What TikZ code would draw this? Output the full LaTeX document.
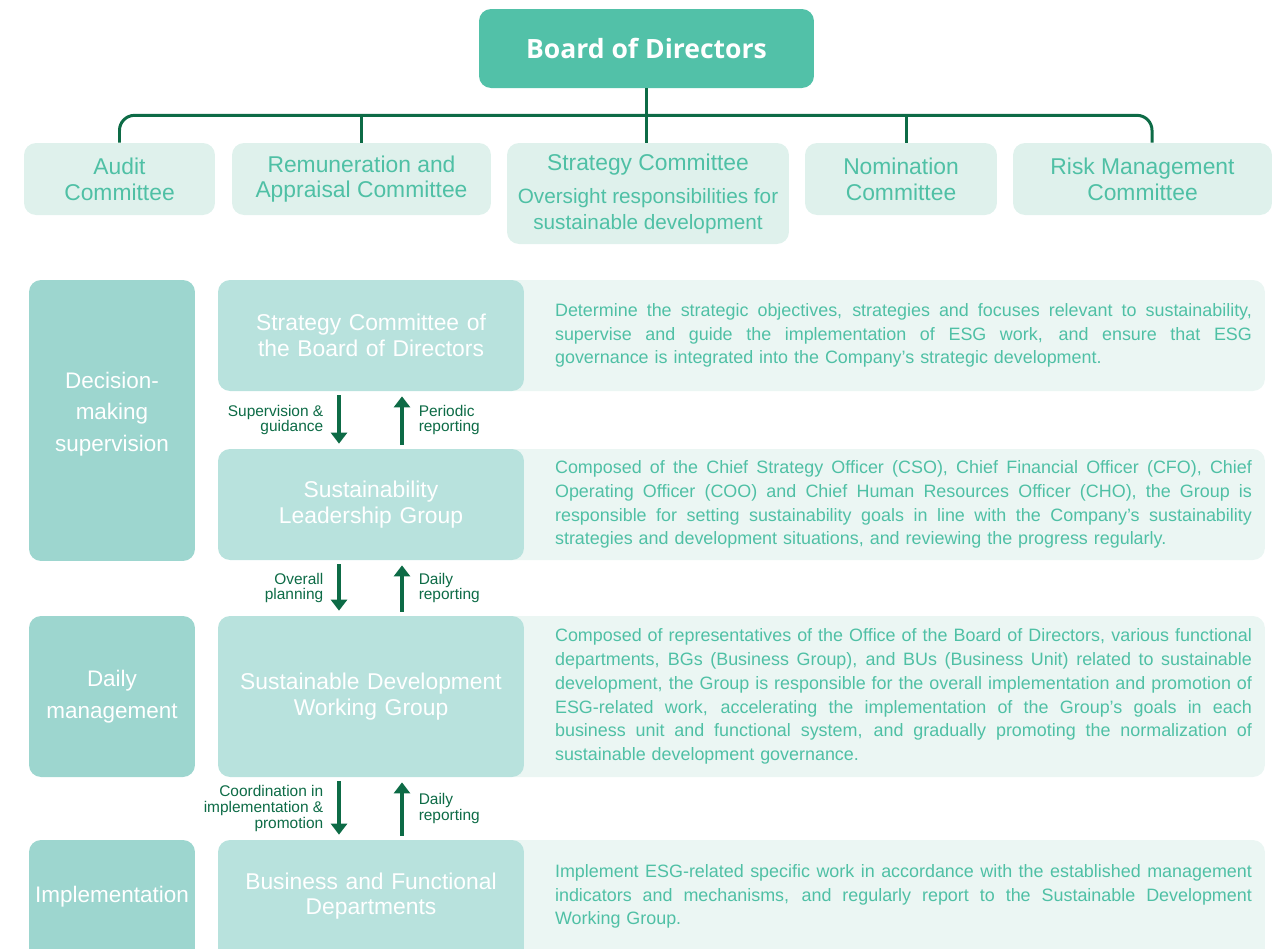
\documentclass[tikz,border=0pt]{standalone}
\usepackage{fontspec}
\setmainfont{Liberation Sans}
\newfontfamily\headfont{Open Sans}
\usetikzlibrary{positioning, arrows.meta}

\definecolor{boardgreen}{HTML}{52C1A8}
\definecolor{linegreen}{HTML}{0D6B46}
\definecolor{mint}{HTML}{4FC0A5}
\definecolor{commfill}{HTML}{DFF1EC}
\definecolor{stagefill}{HTML}{9DD6CF}
\definecolor{bodyfill}{HTML}{B8E2DD}
\definecolor{infofill}{HTML}{EBF6F3}

% justified and last lines of the description texts
\newlength{\infow}
\setlength{\infow}{13.94cm}
\newcommand{\jline}[1]{\makebox[\infow][s]{\spaceskip=\fontdimen2\font plus 1fil minus 0.1em\relax #1}}
\newcommand{\lline}[1]{\makebox[\infow][l]{#1}}
\newcommand{\subsize}{\fontsize{11.8}{13.6}\selectfont}

\tikzset{
   roundbox/.style={
     rounded corners=0.24cm, inner sep=0pt
   },
   board/.style={
      roundbox, fill=boardgreen, text=white,
      minimum width=6.7cm, minimum height=1.58cm,
      font=\headfont\bfseries\fontsize{15.1}{18}\selectfont
   },
   committee/.style={
      roundbox, fill=commfill, text=mint,
      minimum height=1.44cm,
      font=\fontsize{13}{14.6}\selectfont
   },
   stage/.style={
      roundbox, fill=stagefill, text=white,
      minimum width=3.32cm, text width=3.24cm,
      font=\fontsize{12.8}{17.9}\selectfont
   },
   body/.style={
      roundbox, fill=bodyfill, text=white,
      minimum width=6.12cm, text width=5.8cm,
      font=\fontsize{13}{14.7}\selectfont
   },
   info/.style={
      roundbox, fill=infofill, text=mint,
      inner xsep=0.26cm, text width=14.78cm, align=right,
      font=\fontsize{10.2}{13.5}\selectfont
   },
   tree/.style={draw=linegreen, line width=1.7pt},
   flow/.style={-{Triangle[width=0.32cm,length=0.22cm]}, draw=linegreen,
      line width=2pt, shorten <=0.08cm, shorten >=0.1cm},
   flowlabel/.style={text=linegreen, inner sep=0pt,
      font=\fontsize{8.8}{9}\selectfont}
}

\begin{document}
\begin{tikzpicture}[x=0.02cm, y=-0.02cm, align=center]
   \useasboundingbox (0,0) rectangle (1280,948);
   \clip (0,0) rectangle (1280,948);

   % board and its committees
   \node[board](board) at (646.5,48.5) {Board of Directors};

   \node[committee, minimum width=3.82cm](audit) at (119.5,179) {Audit\\ Committee};
   \node[committee, minimum width=5.18cm](remun) at (361.5,179) {Remuneration and\\ Appraisal Committee};
   \node[committee, minimum width=5.64cm, minimum height=2.02cm](strat) at (648,193.5)
      {Strategy Committee\\[0.15cm]\subsize Oversight responsibilities for\\ \subsize sustainable development};
   \node[committee, minimum width=3.84cm](nomin) at (901,179) {Nomination\\ Committee};
   \node[committee, minimum width=5.18cm](risk) at (1142.5,179) {Risk Management\\ Committee};

   \coordinate (bus) at ([yshift=-0.54cm]board.south);
   \draw[tree] (board.south) -- (board.south |- strat.north);
   \draw[tree, rounded corners=0.3cm] (audit.north) |- (bus) -| ([xshift=0.19cm]risk.north);
   \draw[tree] (remun.north) -- (remun.north |- bus);
   \draw[tree] ([xshift=0.1cm]nomin.north) -- ([xshift=0.1cm]nomin.north |- bus);

   % descriptions (behind the group boxes)
   \node[info, minimum height=2.22cm](smcinfo) at (882.5,335.5) {
      \jline{Determine the strategic objectives, strategies and focuses relevant to sustainability,}\\
      \jline{supervise and guide the implementation of ESG work, and ensure that ESG}\\
      \lline{governance is integrated into the Company’s strategic development.}};
   \node[info, minimum height=2.22cm](slginfo) at (882.5,504.5) {
      \jline{Composed of the Chief Strategy Officer (CSO), Chief Financial Officer (CFO), Chief}\\
      \jline{Operating Officer (COO) and Chief Human Resources Officer (CHO), the Group is}\\
      \jline{responsible for setting sustainability goals in line with the Company’s sustainability}\\
      \lline{strategies and development situations, and reviewing the progress regularly.}};
   \node[info, minimum height=3.22cm](sdwginfo) at (882.5,696.5) {
      \jline{Composed of representatives of the Office of the Board of Directors, various functional}\\
      \jline{departments, BGs (Business Group), and BUs (Business Unit) related to sustainable}\\
      \jline{development, the Group is responsible for the overall implementation and promotion of}\\
      \jline{ESG-related work, accelerating the implementation of the Group’s goals in each}\\
      \jline{business unit and functional system, and gradually promoting the normalization of}\\
      \lline{sustainable development governance.}};
   \node[info, minimum height=2.8cm](bfdinfo) at (882.5,910) {
      \jline{Implement ESG-related specific work in accordance with the established management}\\
      \jline{indicators and mechanisms, and regularly report to the Sustainable Development}\\
      \lline{Working Group.}\par\vspace*{0.54cm}};

   % stages
   \node[stage, minimum height=5.62cm](decide) at (112,420.5) {Decision-\\ making\\ supervision\par\vspace*{0.26cm}};
   \node[stage, minimum height=3.22cm](daily) at (112,696.5) {Daily\\ management};
   \node[stage, minimum height=2.8cm](implem) at (112,910) {Implementation\par\vspace*{0.54cm}};

   % groups
   \node[body, minimum height=2.22cm](smc) at (371,335.5) {Strategy Committee of\\ the Board of Directors};
   \node[body, minimum height=2.22cm](slg) at (371,504.5) {Sustainability\\ Leadership Group};
   \node[body, minimum height=3.22cm](sdwg) at (371,696.5) {Sustainable Development\\ Working Group};
   \node[body, minimum height=2.8cm](bfd) at (371,910) {Business and Functional\\ Departments\par\vspace*{0.56cm}};

   \draw[flow] ([xshift=-0.64cm]smc.south) -- node[flowlabel, left=0.28cm, align=right]{Supervision \&\\ guidance} ([xshift=-0.64cm]slg.north);
   \draw[flow] ([xshift=0.62cm]slg.north) -- node[flowlabel, right=0.3cm, align=left]{Periodic\\ reporting} ([xshift=0.62cm]smc.south);

   \draw[flow] ([xshift=-0.64cm]slg.south) -- node[flowlabel, left=0.28cm, align=right]{Overall\\ planning} ([xshift=-0.64cm]sdwg.north);
   \draw[flow] ([xshift=0.62cm]sdwg.north) -- node[flowlabel, right=0.3cm, align=left]{Daily\\ reporting} ([xshift=0.62cm]slg.south);

   \draw[flow] ([xshift=-0.64cm]sdwg.south) -- node[flowlabel, left=0.28cm, align=right]{Coordination in\\ implementation \&\\ promotion} ([xshift=-0.64cm]bfd.north);
   \draw[flow] ([xshift=0.62cm]bfd.north) -- node[flowlabel, right=0.3cm, align=left]{Daily\\ reporting} ([xshift=0.62cm]sdwg.south);
\end{tikzpicture}
\end{document}
